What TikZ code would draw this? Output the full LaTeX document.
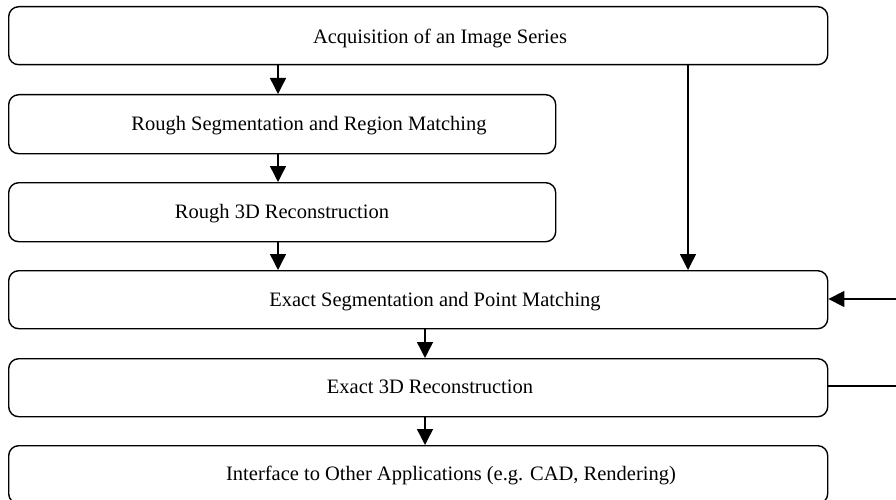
\documentclass[tikz,border=0pt]{standalone}
\usepackage{fontspec}
\setmainfont{Liberation Serif}
\usetikzlibrary{arrows.meta}
\begin{document}
\begin{tikzpicture}[x=1pt,y=-1pt,
  box/.style={draw,line width=1.4pt,rounded corners=10pt,inner sep=0pt,anchor=north west},
  lbl/.style={font=\fontsize{20.5}{24}\selectfont,inner sep=0pt},
  arr/.style={line width=1.4pt,-{Triangle[length=16pt,width=16pt]}},
  ln/.style={line width=1.4pt}]
\useasboundingbox (0,0) rectangle (896,500);
\clip (0,0) rectangle (896,500);
\node[box,minimum width=819pt,minimum height=58pt] (b1) at (8,6) {};
\node[box,minimum width=547pt,minimum height=59pt] (b2) at (8,94) {};
\node[box,minimum width=547pt,minimum height=59pt] (b3) at (8,182) {};
\node[box,minimum width=819pt,minimum height=58pt] (b4) at (8,270) {};
\node[box,minimum width=819pt,minimum height=58pt] (b5) at (8,358) {};
\node[box,minimum width=819pt,minimum height=58pt] (b6) at (8,445) {};
\node[lbl] (t1) at (440,38) {Acquisition of an Image Series};
\node[lbl] (t2) at (309,126) {Rough Segmentation and Region Matching};
\node[lbl] (t3) at (282,214) {Rough 3D Reconstruction};
\node[lbl] (t4) at (435,302) {Exact Segmentation and Point Matching};
\node[lbl] (t5) at (430,387) {Exact 3D Reconstruction};
\node[lbl] (t6) at (451,475) {Interface to Other Applications (e.g. CAD, Rendering)};
\coordinate (cA) at (278,0);
\coordinate (cB) at (425,0);
\coordinate (cC) at (688,0);
\coordinate (fb1) at (896,386);
\coordinate (fb2) at (896,299);
\draw[arr] (b1.south -| cA) -- (b2.north -| cA);
\draw[arr] (b2.south -| cA) -- (b3.north -| cA);
\draw[arr] (b3.south -| cA) -- (b4.north -| cA);
\draw[arr] (b1.south -| cC) -- (b4.north -| cC);
\draw[arr] (b4.south -| cB) -- (b5.north -| cB);
\draw[arr] (b5.south -| cB) -- (b6.north -| cB);
\draw[ln] (b5.east |- fb1) -- (fb1);
\draw[arr] (fb2) -- (b4.east |- fb2);
\end{tikzpicture}
\end{document}
